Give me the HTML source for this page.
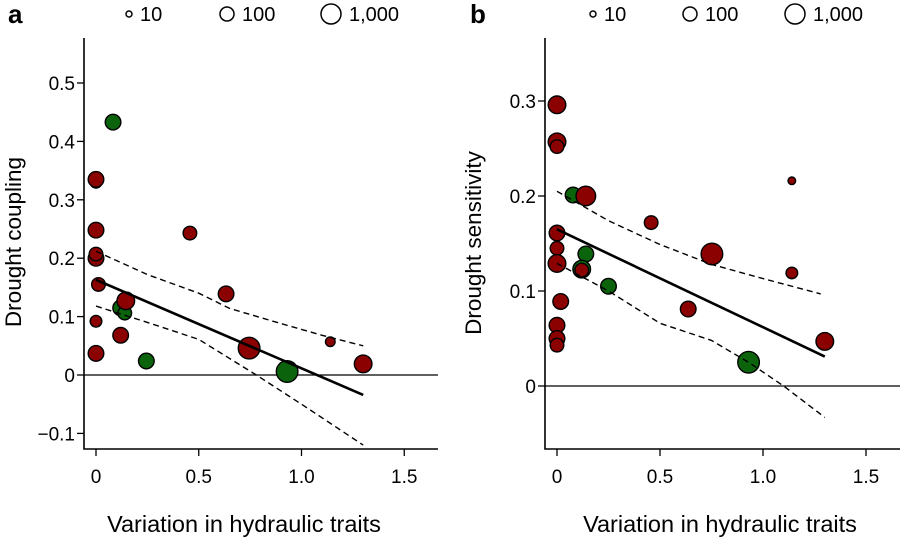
<!DOCTYPE html>
<html><head><meta charset="utf-8"><style>
html,body{margin:0;padding:0;background:#fff;}
svg{display:block;font-family:"Liberation Sans",Arial,sans-serif;}
</style></head><body>
<svg id="fig" width="900" height="544" viewBox="0 0 900 544" xmlns="http://www.w3.org/2000/svg"></svg>
<script>
// Panel a data
const aX = [0.083,0,0,0,0,0,0.012,0.12,0.14,0.145,0,0.12,0,0.245,0.457,0.633,0.745,0.93,1.14,1.3];
const aY = [0.433,0.33,0.335,0.248,0.2,0.207,0.155,0.115,0.106,0.127,0.092,0.068,0.037,0.024,0.243,0.139,0.046,0.006,0.057,0.019];
const aR = [7,5,7,7,7,6,6,7,6,8,5,7,7,7,6,7,10,10,4,8];
const aG = [1,0,0,0,0,0,0,1,1,0,0,0,0,1,0,0,0,1,0,0];
const aFitX = [0,1.3];
const aFitY = [0.163,-0.034];
const aUpX = [0,0.25,0.5,0.65,0.9,1.1,1.3];
const aUpY = [0.212,0.172,0.14,0.114,0.088,0.068,0.05];
const aLoX = [0,0.25,0.5,0.78,1.0,1.15,1.3];
const aLoY = [0.118,0.09,0.061,0.0,-0.05,-0.085,-0.12];
const aYTicks = [-0.1,0,0.1,0.2,0.3,0.4,0.5];
const aYLabels = ["\u22120.1","0","0.1","0.2","0.3","0.4","0.5"];
// Panel b data
const bX = [0,0,0,0.078,0.14,0,0,0,0.14,0.12,0.12,0.25,0.018,0,0,0,0.457,0.752,0.637,1.14,1.14,1.3,0.93];
const bY = [0.296,0.257,0.252,0.201,0.2,0.161,0.145,0.129,0.139,0.123,0.122,0.105,0.089,0.064,0.05,0.043,0.172,0.139,0.081,0.216,0.119,0.047,0.025];
const bR = [8,8,6,7,9,7,6,8,7,8,6,7,7,7,7,6,6,10,7,3,5,8,10];
const bG = [0,0,0,1,0,0,0,0,1,1,0,1,0,0,0,0,0,0,0,0,0,0,1];
const bFitX = [0,1.3];
const bFitY = [0.165,0.031];
const bUpX = [0,0.25,0.5,0.75,1.0,1.28];
const bUpY = [0.205,0.174,0.149,0.128,0.113,0.097];
const bLoX = [0,0.25,0.5,0.75,0.93,1.1,1.3];
const bLoY = [0.129,0.1,0.066,0.048,0.025,0,-0.033];
const bYTicks = [0,0.1,0.2,0.3];
const bYLabels = ["0","0.1","0.2","0.3"];
const xTicks = [0,0.5,1.0,1.5];
const xLabels = ["0","0.5","1.0","1.5"];
const legendVals = ["10","100","1,000"];
const legendR = [3,7,10];

const NS="http://www.w3.org/2000/svg";
const svg=document.getElementById('fig');
function mk(tag,attrs,parent){const e=document.createElementNS(NS,tag);for(const k in attrs)e.setAttribute(k,attrs[k]);(parent||svg).appendChild(e);return e;}

function panel(o){
  const g=mk('g',{});
  
  
  const sx=v=>o.x0+v*o.xs, sy=v=>o.y0-v*o.ys;
  const L=mk('text',{x:o.letterX,y:23,'font-size':26,'font-weight':'bold'},g);L.textContent=o.id;
  
  
  for(let i=0;i<3;i++){
    const c=mk('circle',{cx:o.legX[i],cy:14,r:legendR[i],fill:'none',stroke:'#000','stroke-width':1.5},g);
    
    
    const t=mk('text',{x:o.legX[i]+legendR[i]+8,y:21,'font-size':20},g);t.textContent=legendVals[i];
    
    
  }
  const ax=mk('path',{d:`M${o.axL},38 V449 H${o.axR}`,fill:'none',stroke:'#000','stroke-width':1.6},g);
  
  
  const zl=mk('line',{x1:o.axL,x2:o.axR,y1:sy(0),y2:sy(0),stroke:'#000','stroke-width':1.3},g);
  
  
  o.yT.forEach((v,i)=>{
    mk('line',{x1:o.axL-7,x2:o.axL,y1:sy(v),y2:sy(v),stroke:'#000','stroke-width':1.3},g);
    const t=mk('text',{x:o.axL-9,y:sy(v)+7,'font-size':19,'text-anchor':'end'},g);t.textContent=o.yL[i];
    
    
  });
  xTicks.forEach((v,i)=>{
    mk('line',{x1:sx(v),x2:sx(v),y1:449,y2:456,stroke:'#000','stroke-width':1.3},g);
    const t=mk('text',{x:sx(v),y:483,'font-size':19,'text-anchor':'middle'},g);t.textContent=xLabels[i];
    
    
  });
  const xt=mk('text',{x:o.xTitleX,y:532,'font-size':23.5,'text-anchor':'middle'},g);xt.textContent='Variation in hydraulic traits';
  
  
  const yt=mk('text',{x:0,y:0,'font-size':22.5,'text-anchor':'middle',transform:`translate(${o.yTitleX},${o.yTitleY}) rotate(-90)`},g);yt.textContent=o.yTitle;
  
  
  for(let i=0;i<o.px.length;i++){
    const c=mk('circle',{cx:sx(o.px[i]),cy:sy(o.py[i]),r:o.pr[i]+0.8,fill:o.pg[i]?'#0b640b':'#8b0000',stroke:'#000','stroke-width':1.4},g);
    
    
  }
  const pl=(X,Y)=>X.map((v,i)=>(i?'L':'M')+sx(v).toFixed(1)+','+sy(Y[i]).toFixed(1)).join(' ');
  const f=mk('path',{d:pl(o.fx,o.fy),fill:'none',stroke:'#000','stroke-width':2.6},g);
  
  
  const u=mk('path',{d:pl(o.ux,o.uy),fill:'none',stroke:'#000','stroke-width':1.4,'stroke-dasharray':'6,4'},g);
  
  
  const l=mk('path',{d:pl(o.lx,o.ly),fill:'none',stroke:'#000','stroke-width':1.4,'stroke-dasharray':'6,4'},g);
  
  
}
panel({id:'a',x0:96,xs:205.5,y0:375,ys:584,axL:84,axR:438,letterX:8,legX:[129,227,331],
  yT:aYTicks,yL:aYLabels,xTitleX:244,yTitleX:21,yTitleY:242,yTitle:'Drought coupling',
  px:aX,py:aY,pr:aR,pg:aG,fx:aFitX,fy:aFitY,ux:aUpX,uy:aUpY,lx:aLoX,ly:aLoY});
panel({id:'b',x0:557,xs:206,y0:386,ys:950,axL:545,axR:900,letterX:470,legX:[593,690,795],
  yT:bYTicks,yL:bYLabels,xTitleX:720,yTitleX:481,yTitleY:243,yTitle:'Drought sensitivity',
  px:bX,py:bY,pr:bR,pg:bG,fx:bFitX,fy:bFitY,ux:bUpX,uy:bUpY,lx:bLoX,ly:bLoY});
</script>
</body></html>
